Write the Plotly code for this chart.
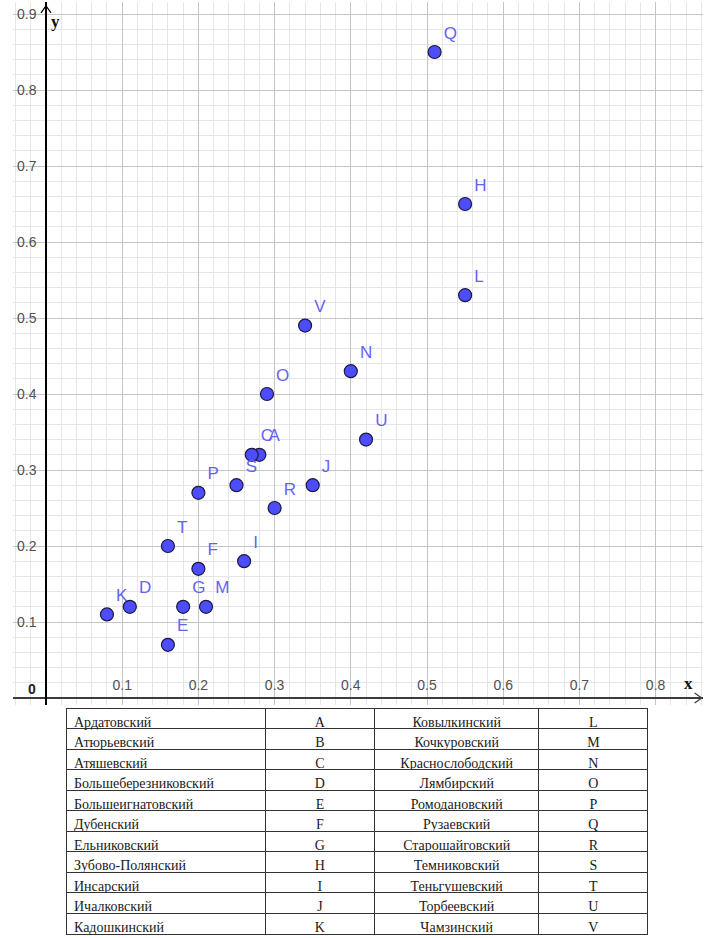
import plotly.graph_objects as go

# ---- data ----
point_labels = ['A', 'C', 'D', 'E', 'F', 'G', 'H', 'I', 'J', 'K', 'L',
                'M', 'N', 'O', 'P', 'Q', 'R', 'S', 'T', 'U', 'V']
x_vals = [0.28, 0.27, 0.11, 0.16, 0.20, 0.18, 0.55, 0.26, 0.35, 0.08, 0.55,
          0.21, 0.40, 0.29, 0.20, 0.51, 0.30, 0.25, 0.16, 0.42, 0.34]
y_vals = [0.32, 0.32, 0.12, 0.07, 0.17, 0.12, 0.65, 0.18, 0.28, 0.11, 0.53,
          0.12, 0.43, 0.40, 0.27, 0.85, 0.25, 0.28, 0.20, 0.34, 0.49]

x_ticks = [0.1, 0.2, 0.3, 0.4, 0.5, 0.6, 0.7, 0.8]
y_ticks = [0.1, 0.2, 0.3, 0.4, 0.5, 0.6, 0.7, 0.8, 0.9]

districts_left = ['Ардатовский', 'Атюрьевский', 'Атяшевский', 'Большеберезниковский',
                  'Большеигнатовский', 'Дубенский', 'Ельниковский', 'Зубово-Полянский',
                  'Инсарский', 'Ичалковский', 'Кадошкинский']
letters_left = ['A', 'B', 'C', 'D', 'E', 'F', 'G', 'H', 'I', 'J', 'K']
districts_right = ['Ковылкинский', 'Кочкуровский', 'Краснослободский', 'Лямбирский',
                   'Ромодановский', 'Рузаевский', 'Старошайговский', 'Темниковский',
                   'Теньгушевский', 'Торбеевский', 'Чамзинский']
letters_right = ['L', 'M', 'N', 'O', 'P', 'Q', 'R', 'S', 'T', 'U', 'V']

W, H = 718, 938

fig = go.Figure()

fig.add_trace(go.Scatter(
    x=x_vals, y=y_vals, mode='markers+text', text=point_labels,
    textposition='top right',
    textfont=dict(family='Liberation Sans', size=17, color='#6464f0'),
    marker=dict(size=13, color='#4d4dff', line=dict(color='#1a1a40', width=1.2)),
    hoverinfo='skip', showlegend=False, cliponaxis=False,
))

cols = [districts_left, letters_left, districts_right, letters_right]
tfont = dict(family='Liberation Serif', size=14, color='#1a1a1a')
fig.add_trace(go.Table(
    domain=dict(x=[66 / W, 648 / W], y=[1 - 937 / H, 1 - 708 / H]),
    columnwidth=[199, 109, 164, 109],
    header=dict(values=[c[0] for c in cols], align=['left', 'center', 'center', 'center'],
                fill_color='white', line=dict(color='#333333', width=1),
                font=tfont, height=20.55),
    cells=dict(values=[c[1:] for c in cols], align=['left', 'center', 'center', 'center'],
               fill_color='white', line=dict(color='#333333', width=1),
               font=tfont, height=20.55),
))

tickfont = dict(family='Liberation Sans', size=14, color='#505050')

fig.update_layout(
    width=W, height=H, margin=dict(l=0, r=0, t=0, b=0, autoexpand=False),
    paper_bgcolor='white', plot_bgcolor='white',
    xaxis=dict(domain=[13 / W, 703 / W], range=[-0.0433, 0.8622],
               anchor='free', position=1 - 698 / H, side='top', automargin=False,
               tickmode='array', tickvals=x_ticks, ticktext=[str(v) for v in x_ticks],
               showgrid=True, gridcolor='#c4c4c4', gridwidth=1,
               minor=dict(dtick=0.02, tick0=0, showgrid=True, gridcolor='#e6e6e6', gridwidth=1),
               zeroline=False, showline=True, linecolor='#3c3c3c', linewidth=2,
               ticks='', tickfont=tickfont, ticklabelstandoff=1, fixedrange=True),
    yaxis=dict(domain=[1 - 705 / H, 1 - 2 / H], range=[-0.00921, 0.91579],
               anchor='free', position=46 / W, side='left', automargin=False,
               tickmode='array', tickvals=y_ticks, ticktext=[str(v) for v in y_ticks],
               showgrid=True, gridcolor='#c4c4c4', gridwidth=1,
               minor=dict(dtick=0.02, tick0=0, showgrid=True, gridcolor='#e6e6e6', gridwidth=1),
               zeroline=False, showline=True, linecolor='#000000', linewidth=1.5,
               ticks='', tickfont=tickfont, ticklabelstandoff=6, fixedrange=True),
)

# axis arrows (open chevrons)
fig.add_shape(type='path', xref='x', yref='y',
              path='M -0.0066,0.9016 L 0,0.9108 L 0.0066,0.9016',
              line=dict(color='#000000', width=1.2))
fig.add_shape(type='path', xref='x', yref='y',
              path='M 0.8512,0.0066 L 0.8605,0 L 0.8512,-0.0066',
              line=dict(color='#3c3c3c', width=1.2))

fig.add_annotation(x=0.0, y=0.0, xref='x', yref='y', text='<b>0</b>', showarrow=False,
                   xanchor='right', yanchor='bottom', xshift=-8, yshift=-1,
                   font=dict(family='Liberation Sans', size=14, color='#222222'))
fig.add_annotation(x=0.0, y=0.905, xref='x', yref='y', text='<b>y</b>', showarrow=False,
                   xanchor='left', yanchor='top', xshift=3,
                   font=dict(family='Liberation Serif', size=17, color='#111111'))
fig.add_annotation(x=0.835, y=0.0, xref='x', yref='y', text='<b>x</b>', showarrow=False,
                   xanchor='left', yanchor='bottom', yshift=3,
                   font=dict(family='Liberation Serif', size=17, color='#111111'))

fig.write_html('out.html', config=dict(displayModeBar=False),
               post_script="document.body.style.margin='0';document.body.style.overflow='hidden';")
